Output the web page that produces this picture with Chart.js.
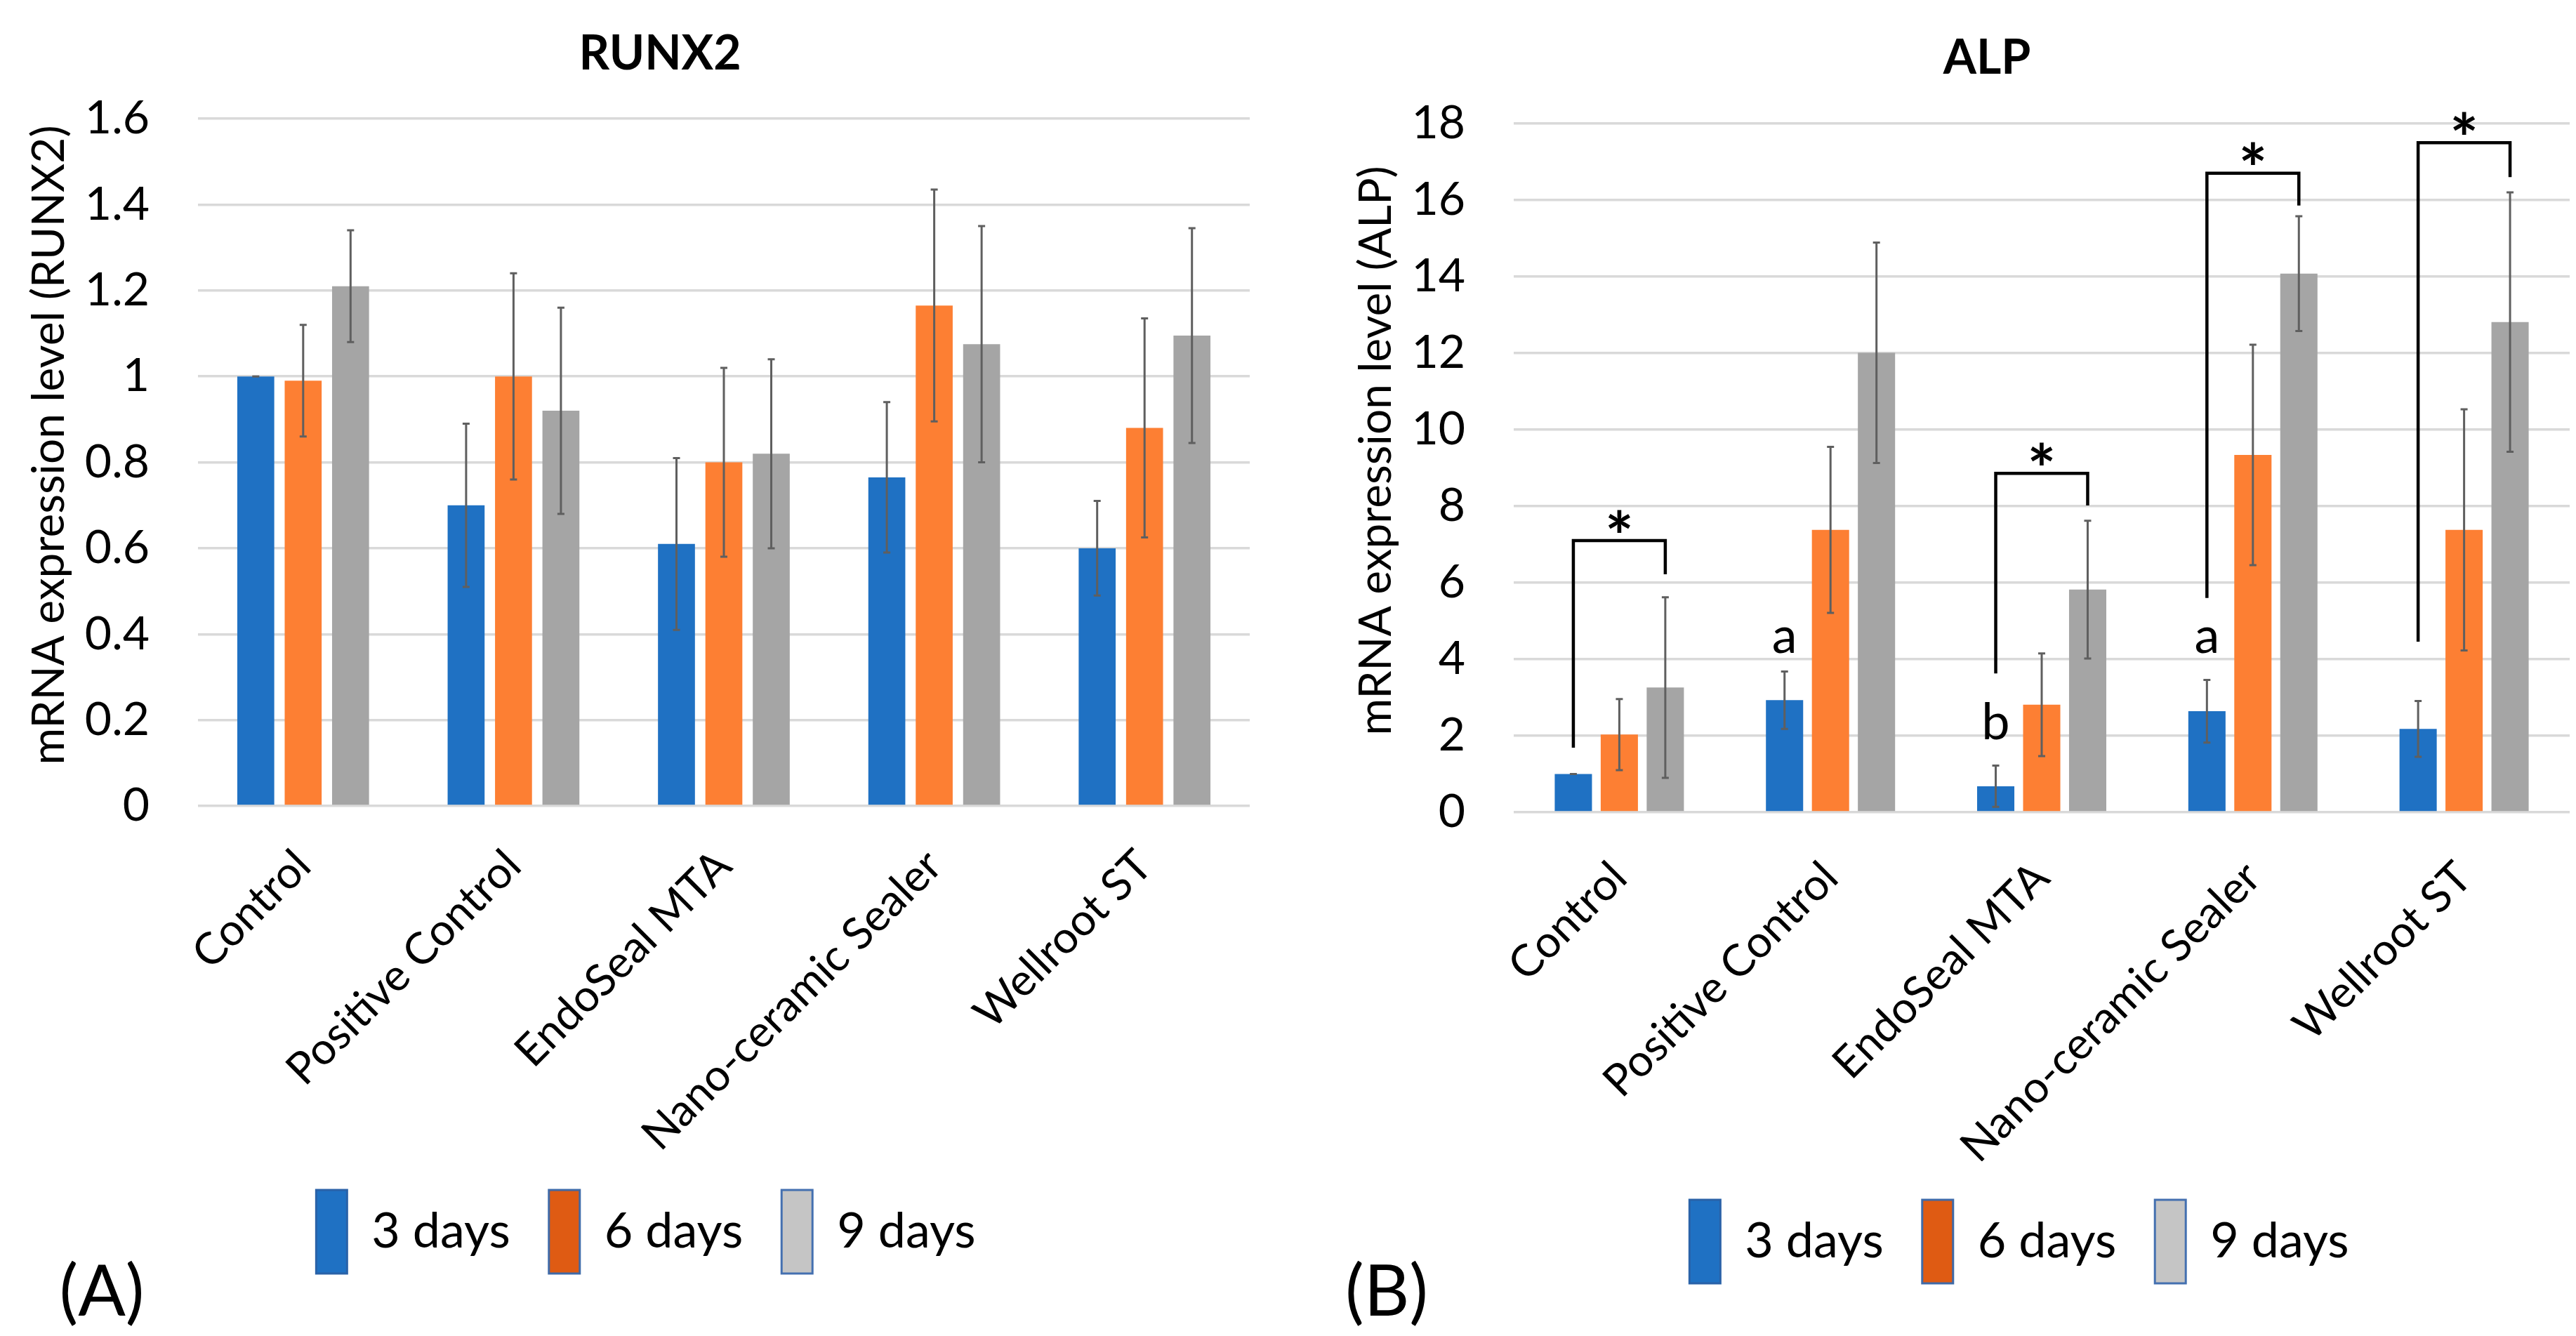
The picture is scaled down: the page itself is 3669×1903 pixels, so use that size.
<!DOCTYPE html>
<html>
<head>
<meta charset="utf-8">
<script src="https://cdn.jsdelivr.net/npm/chart.js@4.4.0/dist/chart.umd.min.js"></script>
<style>
  html, body { margin: 0; padding: 0; background: #fff; overflow: hidden; }
  body { width: 3669px; height: 1903px; position: relative; font-family: Lato, 'Open Sans', sans-serif; color: #000; }
  canvas { position: absolute; top: 0; }
  .title { position: absolute; font-weight: bold; font-size: 68px; transform: translate(-50%, -50%); white-space: nowrap; }
  .panel { position: absolute; font-size: 100px; transform: translate(-50%, -50%); white-space: nowrap; }
</style>
</head>
<body>
<canvas id="chartRunx2" width="1840" height="1903" style="left:0"></canvas>
<canvas id="chartAlp" width="2072" height="1903" style="left:1840px"></canvas>
<div class="title" style="left:940px;top:72px">RUNX2</div>
<div class="title" style="left:2830px;top:78px">ALP</div>
<div class="panel" style="left:145px;top:1835px">(A)</div>
<div class="panel" style="left:1975px;top:1835px">(B)</div>
<script>
(function () {
    'use strict';

    var FONT = "Lato, 'Open Sans', sans-serif";

    // ---- data -------------------------------------------------------
    var groups = ['Control', 'Positive Control', 'EndoSeal MTA', 'Nano-ceramic Sealer', 'Wellroot ST'];
    var seriesLabels = ['3 days', '6 days', '9 days'];

    var runx2Ticks = [0, 0.2, 0.4, 0.6, 0.8, 1, 1.2, 1.4, 1.6];
    var runx2Day3 = [1.0, 0.70, 0.61, 0.765, 0.60];
    var runx2Day6 = [0.99, 1.0, 0.80, 1.165, 0.88];
    var runx2Day9 = [1.21, 0.92, 0.82, 1.075, 1.095];
    var runx2Err3 = [0, 0.19, 0.20, 0.175, 0.11];
    var runx2Err6 = [0.13, 0.24, 0.22, 0.27, 0.255];
    var runx2Err9 = [0.13, 0.24, 0.22, 0.275, 0.25];

    var alpTicks = [0, 2, 4, 6, 8, 10, 12, 14, 16, 18];
    var alpDay3 = [1.0, 2.93, 0.68, 2.64, 2.18];
    var alpDay6 = [2.03, 7.38, 2.81, 9.34, 7.38];
    var alpDay9 = [3.26, 12.01, 5.82, 14.08, 12.81];
    var alpErr3 = [0, 0.75, 0.54, 0.82, 0.73];
    var alpErr6 = [0.93, 2.17, 1.34, 2.88, 3.15];
    var alpErr9 = [2.36, 2.88, 1.8, 1.5, 3.39];

    // significance brackets 3 days -> 9 days (left foot, bar, right foot)
    var alpBrackets = [
        { group: 0, left: 1.69, top: 7.1, right: 6.22 },
        { group: 2, left: 3.63, top: 8.86, right: 8.02 },
        { group: 3, left: 5.6, top: 16.7, right: 15.86 },
        { group: 4, left: 4.46, top: 17.5, right: 16.6 }
    ];
    var alpLetters = [
        { group: 1, text: 'a', y: 4.5 },
        { group: 2, text: 'b', y: 2.39 },
        { group: 3, text: 'a', y: 4.5 }
    ];

    // ---- styles -----------------------------------------------------
    var barColors = ['#1f71c3', '#fd7f33', '#a5a5a5'];
    var legendFill = ['#1f71c3', '#df5b13', '#c5c5c5'];
    var legendBorder = ['#2a62a8', '#3f6aa8', '#4470b0'];

    Chart.defaults.font.family = FONT;
    Chart.defaults.color = '#000';

    function centerText(ctx, t, x, cy) {
        var m = ctx.measureText(t);
        ctx.fillText(t, x, cy + (m.actualBoundingBoxAscent - m.actualBoundingBoxDescent) / 2);
    }

    // ================================================================
    //  Plugins: error bars + significance marks
    // ================================================================
    var errorBars = {
        id: 'errorBars',
        afterDatasetsDraw: function (chart) {
            var ctx = chart.ctx, y = chart.scales.y;
            ctx.save();
            ctx.strokeStyle = '#5f5f5f';
            ctx.lineWidth = 3;
            chart.data.datasets.forEach(function (ds, i) {
                chart.getDatasetMeta(i).data.forEach(function (bar, j) {
                    var v = ds.data[j], e = ds.errors[j];
                    var top = y.getPixelForValue(v + e), bot = y.getPixelForValue(v - e);
                    ctx.beginPath();
                    ctx.moveTo(bar.x, top); ctx.lineTo(bar.x, bot);
                    ctx.moveTo(bar.x - 5, top); ctx.lineTo(bar.x + 5, top);
                    ctx.moveTo(bar.x - 5, bot); ctx.lineTo(bar.x + 5, bot);
                    ctx.stroke();
                });
            });
            ctx.restore();
        }
    };

    var sigMarks = {
        id: 'sigMarks',
        afterDatasetsDraw: function (chart, args, opts) {
            if (!opts.brackets) return;
            var ctx = chart.ctx, y = chart.scales.y;
            var first = chart.getDatasetMeta(0).data, last = chart.getDatasetMeta(2).data;
            ctx.save();
            ctx.strokeStyle = '#000';
            ctx.fillStyle = '#000';
            ctx.lineWidth = 4.5;
            ctx.textAlign = 'center';
            ctx.textBaseline = 'alphabetic';
            opts.brackets.forEach(function (b) {
                var x1 = first[b.group].x, x2 = last[b.group].x, yt = y.getPixelForValue(b.top);
                ctx.beginPath();
                ctx.moveTo(x1, y.getPixelForValue(b.left));
                ctx.lineTo(x1, yt);
                ctx.lineTo(x2, yt);
                ctx.lineTo(x2, y.getPixelForValue(b.right));
                ctx.stroke();
                ctx.font = 'bold 96px ' + FONT;
                centerText(ctx, '*', (x1 + x2) / 2, yt - 28);
            });
            ctx.font = '72px ' + FONT;
            opts.letters.forEach(function (l) {
                centerText(ctx, l.text, first[l.group].x, y.getPixelForValue(l.y));
            });
            ctx.restore();
        }
    };

    // ================================================================
    //  Chart factory
    // ================================================================
    function makeChart(id, p) {
        return new Chart(document.getElementById(id), {
            type: 'bar',
            data: {
                labels: groups,
                datasets: p.values.map(function (vals, i) {
                    return {
                        label: seriesLabels[i],
                        data: vals,
                        errors: p.errors[i],
                        backgroundColor: barColors[i],
                        borderWidth: 0,
                        categoryPercentage: p.catPct,
                        barPercentage: p.barPct
                    };
                })
            },
            options: {
                responsive: false,
                animation: false,
                devicePixelRatio: 1,
                layout: { padding: { left: 0, right: 0, top: p.top, bottom: p.bottom } },
                scales: {
                    x: {
                        grid: { display: false },
                        border: { display: false },
                        ticks: { font: { size: 63 }, padding: p.xPad, minRotation: 45, maxRotation: 45, autoSkip: false },
                        afterFit: function (s) { s.height = p.xHeight; }
                    },
                    y: {
                        min: p.ticks[0],
                        max: p.ticks[p.ticks.length - 1],
                        afterBuildTicks: function (s) {
                            s.ticks = p.ticks.map(function (v) { return { value: v }; });
                        },
                        grid: { color: '#d9d9d9', lineWidth: 3.5, drawTicks: false },
                        border: { display: false },
                        ticks: { font: { size: 66 }, padding: 69, callback: function (v) { return String(v); } },
                        // leading spaces lift the rotated title a little above the axis centre, as in the figure
                        title: { display: true, text: '   ' + p.title, font: { size: 64 }, padding: { top: p.titlePad, bottom: 0 } },
                        afterFit: function (s) { s.width = p.yWidth; }
                    },
                    pad: {
                        type: 'linear',
                        position: 'right',
                        grid: { display: false },
                        border: { display: false },
                        ticks: { display: false },
                        afterFit: function (s) { s.width = p.rightWidth; }
                    }
                },
                plugins: {
                    legend: {
                        position: 'bottom',
                        labels: {
                            boxWidth: 44,
                            boxHeight: 119,
                            padding: 55,
                            color: '#000',
                            font: { size: 70 },
                            generateLabels: function () {
                                return seriesLabels.map(function (t, i) {
                                    return { text: t, fillStyle: legendFill[i], strokeStyle: legendBorder[i], lineWidth: 3, datasetIndex: i };
                                });
                            }
                        }
                    },
                    tooltip: { enabled: false },
                    sigMarks: p.marks || {}
                }
            },
            plugins: [errorBars, sigMarks]
        });
    }

    makeChart('chartRunx2', {
        values: [runx2Day3, runx2Day6, runx2Day9],
        errors: [runx2Err3, runx2Err6, runx2Err9],
        ticks: runx2Ticks,
        title: 'mRNA expression level (RUNX2)',
        top: 169, bottom: 79, xHeight: 492, xPad: 40,
        yWidth: 282, titlePad: 32, rightWidth: 60,
        catPct: 0.676, barPct: 0.78
    });

    makeChart('chartAlp', {
        values: [alpDay3, alpDay6, alpDay9],
        errors: [alpErr3, alpErr6, alpErr9],
        ticks: alpTicks,
        title: 'mRNA expression level (ALP)',
        top: 176, bottom: 65, xHeight: 497, xPad: 48,
        yWidth: 316, titlePad: 82, rightWidth: 252,
        catPct: 0.653, barPct: 0.81,
        marks: { brackets: alpBrackets, letters: alpLetters }
    });
})();
</script>
</body>
</html>
